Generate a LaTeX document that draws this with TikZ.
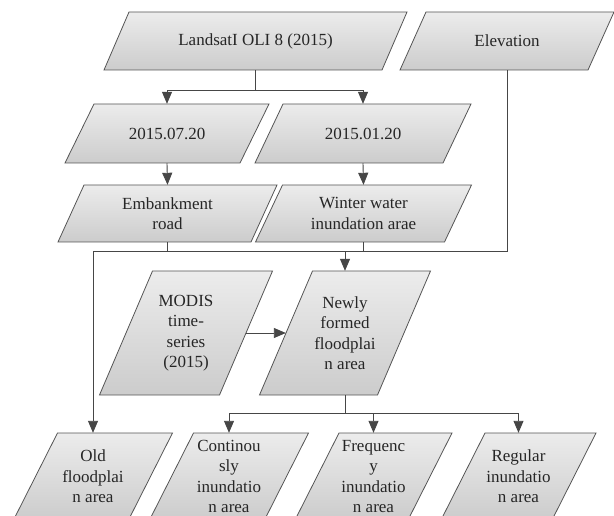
\documentclass[tikz,border=0pt]{standalone}
\usepackage{fontspec}
\setmainfont{Liberation Serif}
\usetikzlibrary{arrows.meta,calc}
\definecolor{edgec}{RGB}{85,85,85}
\definecolor{linec}{RGB}{70,70,70}
\definecolor{filltop}{RGB}{236,236,236}
\definecolor{fillbot}{RGB}{204,204,204}
\tikzset{
  conn/.style={draw=linec,line width=0.9pt},
  arr/.style={conn,-{Triangle[length=12pt,width=10pt]}},
  pshape/.style={draw=edgec,line width=0.8pt,top color=filltop,bottom color=fillbot},
  ptext/.style={inner sep=0pt,align=center,font=\fontsize{17}{20.5}\selectfont,text=black!85},
}
% #1 name, #2 cx, #3 cy, #4 w, #5 h, #6 slant, #7 text
\newcommand\pbox[7]{%
  \path[pshape] ({#2-#4/2+#6/2},{#3-#5/2}) -- ({#2+#4/2+#6/2},{#3-#5/2})
     -- ({#2+#4/2-#6/2},{#3+#5/2}) -- ({#2-#4/2-#6/2},{#3+#5/2}) -- cycle;
  \node[ptext,minimum width=#4pt,minimum height=#5pt] (#1) at (#2,#3) {#7};
}
\begin{document}
\begin{tikzpicture}[x=1pt,y=-1pt]
\useasboundingbox (0,0) rectangle (614,516);
\pbox{L}{255.5}{41}{278}{58}{25}{LandsatI OLI 8 (2015)}
\pbox{elev}{507}{41}{188}{58}{26}{Elevation}
\pbox{d1}{167}{133.5}{175}{59}{29}{2015.07.20}
\pbox{d2}{363}{133.5}{188}{59}{28}{2015.01.20}
\pbox{e1}{167.5}{213.5}{193}{57}{26}{Embankment\\road}
\pbox{e2}{363.5}{213.5}{189}{57}{27}{Winter water\\inundation arae}
\pbox{mod}{186}{333}{120}{124}{53}{MODIS\\time-\\series\\(2015)}
\pbox{new}{345}{333}{118}{124}{53}{Newly\\formed\\floodplai\\n area}
\pbox{old}{93}{476.5}{115}{87}{44}{Old\\floodplai\\n area}
\pbox{c2}{229}{476.5}{115}{87}{44}{Continou\\sly\\inundatio\\n area}
\pbox{c3}{373.5}{476.5}{113}{87}{44}{Frequenc\\y\\inundatio\\n area}
\pbox{c4}{518.5}{476.5}{111}{87}{44}{Regular\\inundatio\\n area}
% connectors
\coordinate (j1) at ($(L.south)+(0,20)$);
\draw[conn] (L.south) -- (j1);
\draw[arr] (j1) -| (d1.north);
\draw[arr] (j1) -| (d2.north);
\draw[arr] (d1.south) -- (e1.north);
\draw[arr] (d2.south) -- (e2.north);
\coordinate (j2) at ($(e1.south)+(0,9)$);
\draw[arr] (elev.south) |- (j2) -| (old.north);
\draw[conn] (e1.south) -- (j2);
\draw[conn] (e2.south) -- (e2.south |- j2);
\draw[arr] (new.north |- j2) -- (new.north);
\draw[arr] (mod.east) -- (new.west);
\coordinate (j3) at ($(new.south)+(0,18)$);
\draw[conn] (new.south) -- (j3);
\draw[arr] (j3) -| (c2.north);
\draw[arr] (j3) -| (c3.north);
\draw[arr] (j3) -| (c4.north);
\end{tikzpicture}
\end{document}
